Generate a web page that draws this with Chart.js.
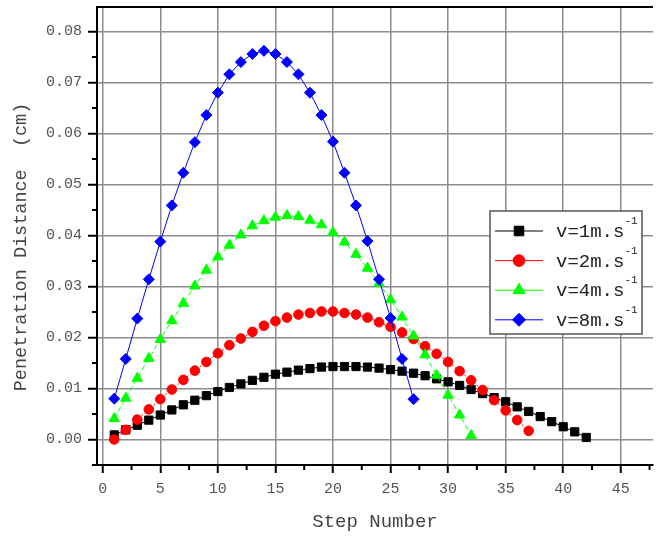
<!DOCTYPE html>
<html>
<head>
<meta charset="utf-8">
<script src="https://cdn.jsdelivr.net/npm/chart.js@4"></script>
<style>
  html, body { margin: 0; padding: 0; background: #fff; }
</style>
</head>
<body>
<canvas id="myChart" width="660" height="542"></canvas>
<script>
var steps = [1, 2, 3, 4, 5, 6, 7, 8, 9, 10, 11, 12, 13, 14, 15, 16, 17, 18, 19, 20, 21,
  22, 23, 24, 25, 26, 27, 28, 29, 30, 31, 32, 33, 34, 35, 36, 37, 38, 39, 40, 41, 42];

var v1 = [0.0009, 0.0019, 0.0028, 0.0038, 0.0048, 0.0058, 0.0068, 0.0077, 0.0086, 0.0094,
  0.0102, 0.0109, 0.0116, 0.0122, 0.0128, 0.0132, 0.0136, 0.0139, 0.0142, 0.0143,
  0.0143, 0.0143, 0.0142, 0.0140, 0.0137, 0.0134, 0.0130, 0.0125, 0.0119, 0.0113,
  0.0106, 0.0098, 0.0090, 0.0082, 0.0074, 0.0064, 0.0055, 0.0045, 0.0035, 0.0025,
  0.0015, 0.0004];
var v2 = [0.0000, 0.0019, 0.0039, 0.0059, 0.0079, 0.0098, 0.0117, 0.0135, 0.0152, 0.0169,
  0.0185, 0.0198, 0.0211, 0.0223, 0.0232, 0.0239, 0.0245, 0.0248, 0.0251, 0.0251,
  0.0248, 0.0245, 0.0239, 0.0230, 0.0221, 0.0210, 0.0197, 0.0183, 0.0168, 0.0152,
  0.0134, 0.0116, 0.0097, 0.0077, 0.0057, 0.0038, 0.0017];
var v4 = [0.0041, 0.0081, 0.0120, 0.0159, 0.0196, 0.0233, 0.0267, 0.0301, 0.0332, 0.0358,
  0.0381, 0.0401, 0.0419, 0.0429, 0.0436, 0.0439, 0.0437, 0.0430, 0.0421, 0.0406,
  0.0387, 0.0363, 0.0336, 0.0306, 0.0274, 0.0240, 0.0203, 0.0166, 0.0126, 0.0087,
  0.0048, 0.0008];
var v8 = [0.0080, 0.0158, 0.0237, 0.0314, 0.0388, 0.0459, 0.0523, 0.0583, 0.0636, 0.0680,
  0.0716, 0.0740, 0.0756, 0.0762, 0.0756, 0.0740, 0.0716, 0.0680, 0.0636, 0.0584,
  0.0523, 0.0459, 0.0389, 0.0314, 0.0238, 0.0158, 0.0079];

var labels = ['v=1m.s', 'v=2m.s', 'v=4m.s', 'v=8m.s'];
var superscript = '-1';
var xTitle = 'Step Number';
var yTitle = 'Penetration Distance  (cm)';

var FONT = "'Liberation Mono', monospace";

function toPoints(vals) {
  return vals.map(function (v, i) { return { x: steps[i], y: v }; });
}

// frame, minor ticks, y title and the boxed legend with superscripts
var extras = {
  id: 'extras',
  afterDraw: function (chart) {
    var ctx = chart.ctx;
    var a = chart.chartArea;
    var xs = chart.scales.x, ys = chart.scales.y;
    ctx.save();
    ctx.strokeStyle = '#000';
    ctx.lineWidth = 2;
    ctx.beginPath();
    ctx.moveTo(a.left - 1, a.top);
    ctx.lineTo(a.right, a.top);
    ctx.stroke();

    // minor ticks
    ctx.beginPath();
    for (var mx = 2.5; mx < xs.max; mx += 5) {
      var px = xs.getPixelForValue(mx);
      ctx.moveTo(px, a.bottom);
      ctx.lineTo(px, a.bottom + 5);
    }
    for (var my = -0.005; my < ys.max; my += 0.01) {
      var py = ys.getPixelForValue(my);
      ctx.moveTo(a.left, py);
      ctx.lineTo(a.left - 5, py);
    }
    ctx.stroke();

    // y title
    ctx.save();
    ctx.translate(21, 247);
    ctx.rotate(-Math.PI / 2);
    ctx.fillStyle = '#444';
    ctx.font = '18.5px ' + FONT;
    ctx.textAlign = 'center';
    ctx.textBaseline = 'middle';
    ctx.fillText(yTitle, 0, 0);
    ctx.restore();

    // legend
    var bx = 490, by = 211, bw = 152, bh = 123;
    ctx.fillStyle = '#fff';
    ctx.fillRect(bx, by, bw, bh);
    ctx.strokeStyle = '#555';
    ctx.lineWidth = 1.5;
    ctx.strokeRect(bx, by, bw, bh);
    chart.data.datasets.forEach(function (ds, i) {
      var cy = by + 20 + i * 29.6;
      ctx.strokeStyle = ds.borderColor;
      ctx.lineWidth = 1;
      ctx.setLineDash([]);
      ctx.beginPath();
      ctx.moveTo(bx + 5, cy);
      ctx.lineTo(bx + 53, cy);
      ctx.stroke();
      ctx.fillStyle = ds.backgroundColor;
      Chart.helpers.drawPoint(ctx, {
        pointStyle: ds.pointStyle,
        radius: ds.pointRadius + 1,
        borderWidth: 1,
        rotation: 0
      }, bx + 29, cy);
      ctx.fillStyle = '#222';
      ctx.font = '19px ' + FONT;
      ctx.textBaseline = 'middle';
      ctx.textAlign = 'left';
      ctx.fillText(labels[i], bx + 66, cy + 1);
      var w = ctx.measureText(labels[i]).width;
      ctx.font = '11px ' + FONT;
      ctx.fillText(superscript, bx + 66 + w, cy - 10);
    });
    ctx.restore();
  }
};

new Chart(document.getElementById('myChart'), {
  type: 'scatter',
  data: {
    datasets: [{
      label: labels[0],
      data: toPoints(v1),
      showLine: true,
      borderColor: '#000000',
      backgroundColor: '#000000',
      borderWidth: 1,
      pointStyle: 'rect',
      pointRadius: 5.8,
      pointBorderWidth: 1,
      order: 4
    }, {
      label: labels[1],
      data: toPoints(v2),
      showLine: true,
      borderColor: '#ff0000',
      backgroundColor: '#ff0000',
      borderWidth: 1,
      borderDash: [2, 2],
      pointStyle: 'circle',
      pointRadius: 4.8,
      pointBorderWidth: 1,
      order: 3
    }, {
      label: labels[2],
      data: toPoints(v4),
      showLine: true,
      borderColor: '#00ff00',
      backgroundColor: '#00ff00',
      borderWidth: 1,
      borderDash: [5, 3],
      pointStyle: 'triangle',
      pointRadius: 6,
      pointBorderWidth: 1,
      order: 2
    }, {
      label: labels[3],
      data: toPoints(v8),
      showLine: true,
      borderColor: '#0000ff',
      backgroundColor: '#0000ff',
      borderWidth: 1,
      pointStyle: 'rectRot',
      pointRadius: 5.5,
      pointBorderWidth: 1,
      order: 1
    }]
  },
  options: {
    responsive: false,
    animation: false,
    layout: { padding: { top: 1, right: 0, left: 0, bottom: 0 } },
    plugins: {
      legend: { display: false },
      tooltip: { enabled: false }
    },
    scales: {
      x: {
        type: 'linear',
        min: -0.5,
        max: 47.8,
        border: { display: true, color: '#000', width: 2 },
        grid: { color: '#8c8c8c', lineWidth: 1.5, tickLength: 8, tickColor: '#000', tickWidth: 2 },
        ticks: {
          stepSize: 5,
          includeBounds: false,
          padding: 7,
          color: '#555',
          font: { family: FONT, size: 15 },
          maxRotation: 0
        },
        title: {
          display: true,
          text: xTitle,
          color: '#444',
          font: { family: FONT, size: 19 },
          padding: { top: 0, bottom: 9 }
        },
        afterFit: function (s) { s.height = 77; s.paddingLeft = 0; s.paddingRight = 0; }
      },
      y: {
        type: 'linear',
        min: -0.005,
        max: 0.0848,
        border: { display: true, color: '#000', width: 2 },
        grid: { color: '#8c8c8c', lineWidth: 1.5, tickLength: 9, tickColor: '#000', tickWidth: 2 },
        ticks: {
          stepSize: 0.01,
          includeBounds: false,
          padding: 6,
          color: '#555',
          font: { family: FONT, size: 15 },
          callback: function (v) { return v.toFixed(2); }
        },
        afterFit: function (s) { s.width = 97; s.paddingTop = 0; s.paddingBottom = 0; }
      }
    }
  },
  plugins: [extras]
});
</script>
</body>
</html>
